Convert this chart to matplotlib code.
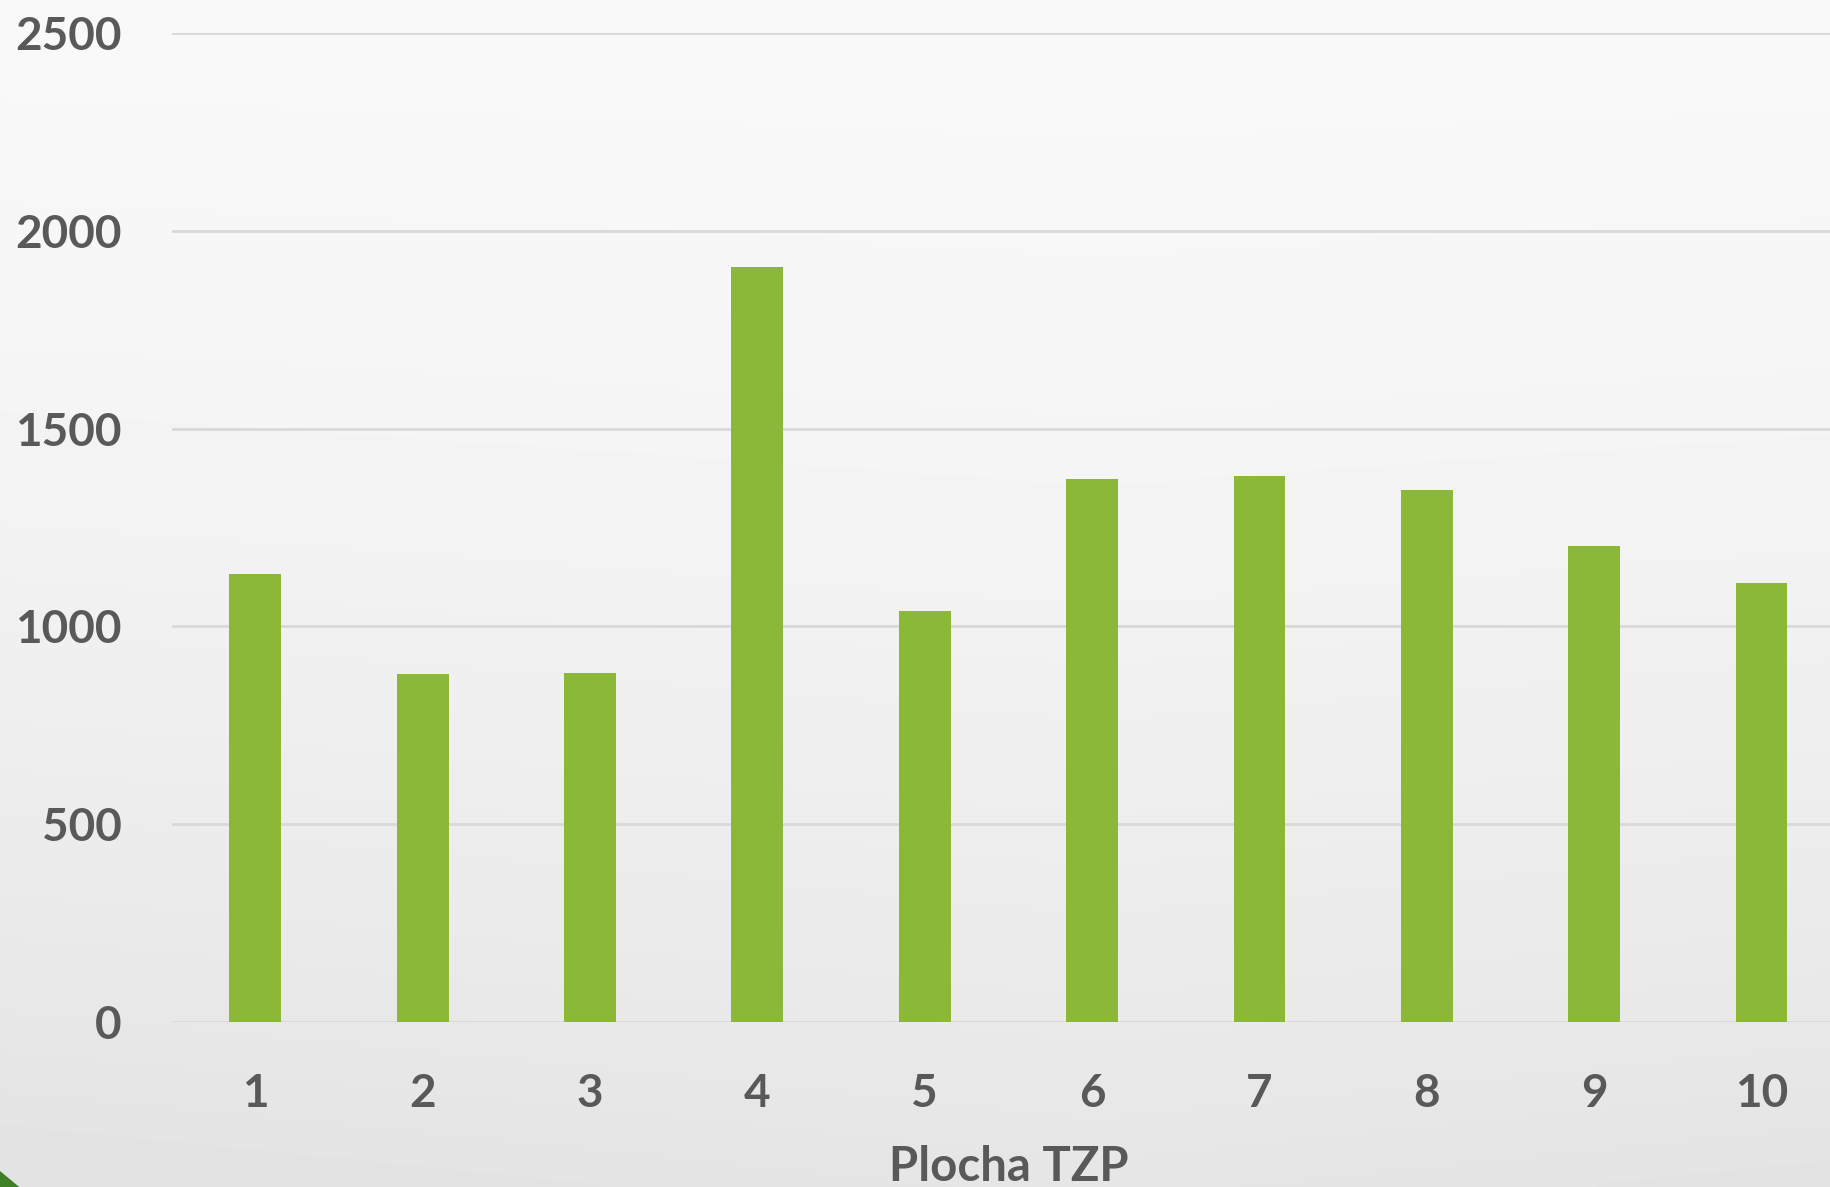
import numpy as np
import matplotlib
matplotlib.use("Agg")
import matplotlib.pyplot as plt
from matplotlib.patches import Polygon

# values
categories = ["1", "2", "3", "4", "5", "6", "7", "8", "9", "10"]
values = [1132, 879, 882, 1908, 1038, 1374, 1380, 1344, 1203, 1109]
yticks = [0, 500, 1000, 1500, 2000, 2500]

text_color = "#595959"
bar_color = "#8BB836"
grid_color = "#d9d9d9"

plt.rcParams["font.family"] = ["Lato", "DejaVu Sans"]

fig = plt.figure(figsize=(18.3, 11.87), dpi=100)

# soft grey background gradient
bg = fig.add_axes([0, 0, 1, 1], zorder=-10)
yy, xx = np.mgrid[0:1:200j, 0:1:300j]
shade = 0.975 - 0.075 * yy ** 1.6 - 0.02 * np.abs(xx - 0.6) * yy
bg.imshow(shade, cmap="gray", vmin=0, vmax=1, aspect="auto",
          extent=[0, 1, 1, 0], interpolation="bilinear")
bg.set_xlim(0, 1)
bg.set_ylim(1, 0)
bg.axis("off")

# little green corner
fig.patches.append(Polygon([[0, 0], [0, 0.0135], [0.0105, 0]], closed=True,
                           transform=fig.transFigure, facecolor="#3F7F25",
                           edgecolor="none", zorder=5))

ax = fig.add_axes([0.0938, 0.139, 0.9145, 0.833])
ax.patch.set_alpha(0)
x = np.arange(1, len(categories) + 1)
ax.bar(x, values, width=0.31, color=bar_color, zorder=3)

ax.set_xlim(0.5, len(categories) + 0.5)
ax.set_ylim(0, 2500)
ax.set_yticks(yticks)
ax.set_xticks(x)
ax.set_xticklabels(categories)
ax.yaxis.grid(True, color=grid_color, linewidth=2, zorder=0)
ax.axhline(0, color=grid_color, linewidth=2, zorder=1)
for s in ax.spines.values():
    s.set_visible(False)
ax.tick_params(axis="both", length=0, labelsize=33, labelcolor=text_color)
ax.tick_params(axis="y", pad=36)
ax.tick_params(axis="x", pad=37)
for lbl in ax.get_xticklabels() + ax.get_yticklabels():
    lbl.set_fontweight("bold")

fig.text(0.551, -0.002, "Plocha TZP", ha="center", va="bottom",
         fontsize=34, fontweight="bold", color=text_color)

fig.savefig("out.png", dpi=100)
